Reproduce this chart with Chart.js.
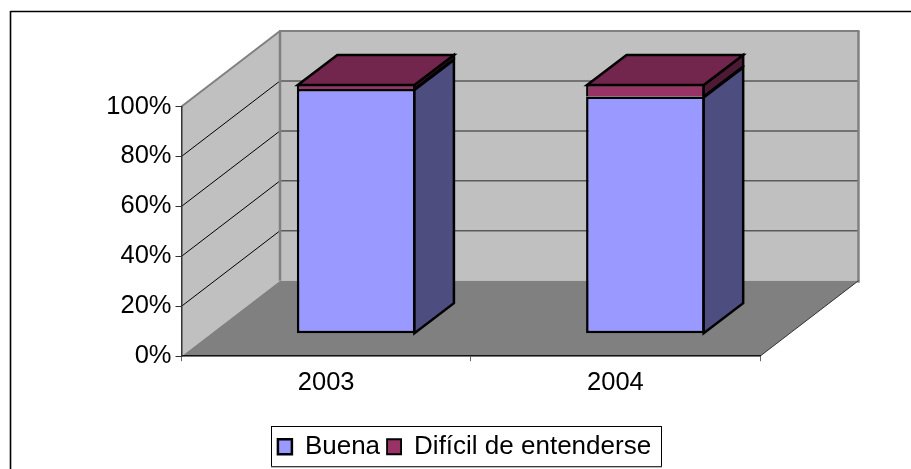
<!DOCTYPE html>
<html>
<head>
<meta charset="utf-8">
<style>
  html, body { margin: 0; padding: 0; background: #fff; }
  #wrap { width: 911px; height: 469px; position: relative; }
</style>
<script src="https://cdn.jsdelivr.net/npm/chart.js@4"></script>
</head>
<body>
<div id="wrap"><canvas id="chart" width="911" height="469"></canvas></div>
<script>
const years = ['2003', '2004'];
const buena = [98, 95];
const dificil = [2, 5];

// 3D look: full depth of the box, where the bars sit in it, how deep a bar is
const box = { dx: 98.5, dy: -75.5 };
const barShift = { dx: 30, dy: -22.5 };
const barDepth = { dx: 39.5, dy: -30 };

const labelFont = { family: '"Liberation Sans"', size: 25.5 };
const legendFont = { family: '"Liberation Sans"', size: 26 };

function poly(ctx, pts, fill, stroke, width) {
  ctx.beginPath();
  pts.forEach((p, i) => i ? ctx.lineTo(p[0], p[1]) : ctx.moveTo(p[0], p[1]));
  ctx.closePath();
  if (fill) { ctx.fillStyle = fill; ctx.fill(); }
  if (stroke) { ctx.strokeStyle = stroke; ctx.lineWidth = width; ctx.lineJoin = 'miter'; ctx.stroke(); }
}

function line(ctx, x1, y1, x2, y2, color, width) {
  ctx.beginPath();
  ctx.moveTo(x1, y1);
  ctx.lineTo(x2, y2);
  ctx.strokeStyle = color;
  ctx.lineWidth = width;
  ctx.stroke();
}

const walls = {
  id: 'walls',
  afterLayout(chart) {
    // legend sits centred under the whole picture, not under the plot
    chart.legend.left += 74.5;
    chart.legend.right += 74.5;
  },
  // walls go in before the scales so the axis lines stay on top of them
  beforeDraw(chart) {
    const ctx = chart.ctx;
    // outer frame, only top and left are visible in the picture
    line(ctx, 10.5, 11.5, 911, 11.5, '#000', 1.6);
    line(ctx, 10.5, 11, 10.5, 469, '#000', 1.6);

    const y = chart.scales.y;
    const { left, right } = chart.chartArea;
    const y0 = y.getPixelForValue(0);
    const y100 = y.getPixelForValue(100);
    const bx = left + box.dx;
    const rx = right + box.dx;
    const by = box.dy;

    ctx.save();
    poly(ctx, [[bx, y100 + by], [rx, y100 + by], [rx, y0 + by], [bx, y0 + by]], '#c0c0c0');
    poly(ctx, [[left, y100], [bx, y100 + by], [bx, y0 + by], [left, y0]], '#c0c0c0');
    poly(ctx, [[left, y0], [right, y0], [rx, y0 + by], [bx, y0 + by]], '#808080');

    // grid lines on both walls
    y.ticks.forEach(t => {
      const py = y.getPixelForValue(t.value);
      if (t.value > 0 && t.value < 100) {
        line(ctx, left, py, bx, py + by, '#000', 1);
        line(ctx, bx, py + by, rx, py + by, '#5a5a5a', 1.5);
      }
    });

    // wall edges
    line(ctx, left, y100, bx, y100 + by, '#808080', 2);
    line(ctx, bx - 1, y100 + by, rx + 1, y100 + by, '#808080', 2);
    line(ctx, bx, y100 + by, bx, y0 + by, '#808080', 2.5);
    line(ctx, rx, y100 + by, rx, y0 + by + 2, '#808080', 2.5);
    line(ctx, right, y0, rx, y0 + by, '#333', 1);
    ctx.restore();
  },
  beforeDatasetDraw(chart) {
    chart.ctx.save();
    chart.ctx.translate(barShift.dx, barShift.dy);
  },
  afterDatasetDraw(chart) {
    chart.ctx.restore();
  },
  afterDatasetsDraw(chart) {
    const ctx = chart.ctx;
    ctx.save();
    ctx.translate(barShift.dx, barShift.dy);
    const d = barDepth;
    const sideColors = ['#4d4d80', '#4d1a33'];
    chart.data.datasets.forEach((ds, i) => {
      chart.getDatasetMeta(i).data.forEach(bar => {
        const r = bar.x + bar.width / 2 - 1;
        const l = bar.x - bar.width / 2 + 1;
        poly(ctx, [[r, bar.y + 1], [r + d.dx, bar.y + 1 + d.dy], [r + d.dx, bar.base + d.dy], [r, bar.base]], sideColors[i], '#000', 2.5);
        if (i === chart.data.datasets.length - 1) {
          poly(ctx, [[l, bar.y + 1], [l + d.dx, bar.y + 1 + d.dy], [r + d.dx, bar.y + 1 + d.dy], [r, bar.y + 1]], '#73264d', '#000', 2.5);
        }
      });
    });
    ctx.restore();
  },
  afterDraw(chart) {
    // frame around the legend
    const ctx = chart.ctx;
    ctx.save();
    ctx.strokeStyle = '#000';
    ctx.lineWidth = 1;
    ctx.strokeRect(271.5, 426.5, 390, 40);
    line(ctx, 271, 467, 662, 467, '#777', 1);
    ctx.restore();
  }
};

new Chart(document.getElementById('chart'), {
  type: 'bar',
  data: {
    labels: years,
    datasets: [
      {
        label: 'Buena',
        data: buena,
        backgroundColor: '#9999ff',
        borderColor: '#000',
        borderWidth: { top: 2.5, left: 2.5, right: 2.5, bottom: 2.5 },
        borderSkipped: false,
        clip: false
      },
      {
        label: 'Difícil de entenderse',
        data: dificil,
        backgroundColor: '#993366',
        borderColor: '#000',
        borderWidth: { top: 2.5, left: 2.5, right: 2.5, bottom: 0 },
        borderSkipped: false,
        clip: false
      }
    ]
  },
  options: {
    responsive: false,
    animation: false,
    events: [],
    barPercentage: 0.41,
    categoryPercentage: 1,
    layout: { padding: { left: 20, right: 151, top: 106.5, bottom: -0.7 } },
    plugins: {
      tooltip: { enabled: false },
      legend: {
        position: 'bottom',
        labels: {
          color: '#000',
          boxWidth: 14,
          boxHeight: 15,
          padding: 7,
          font: legendFont
        }
      }
    },
    scales: {
      x: {
        stacked: true,
        afterFit(s) { s.height = 70.5; },
        grid: { offset: true, drawOnChartArea: false, drawTicks: true, tickLength: 5, color: '#666' },
        border: { display: true, color: '#111', width: 1.5 },
        ticks: { color: '#000', padding: 6.7, maxRotation: 0, font: labelFont }
      },
      y: {
        stacked: true,
        min: 0,
        max: 100,
        afterFit(s) { s.width = 161.5; },
        grid: { drawOnChartArea: false, drawTicks: true, tickLength: 6, color: '#333' },
        border: { display: true, color: '#333', width: 1.5 },
        ticks: {
          stepSize: 20,
          color: '#000',
          padding: 4,
          callback: v => v + '%',
          font: labelFont
        }
      }
    }
  },
  plugins: [walls]
});
</script>
</body>
</html>
